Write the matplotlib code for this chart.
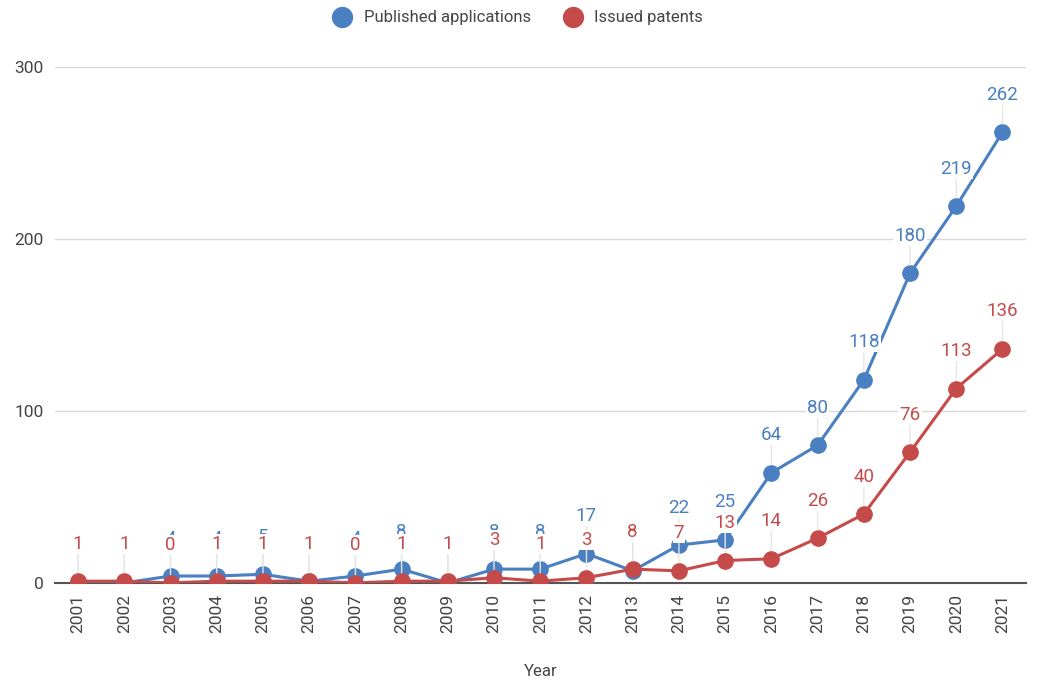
import matplotlib
matplotlib.use('Agg')
import matplotlib.pyplot as plt

plt.rcParams['font.family'] = ['Roboto', 'DejaVu Sans']

years = ['2001', '2002', '2003', '2004', '2005', '2006', '2007', '2008', '2009', '2010', '2011',
         '2012', '2013', '2014', '2015', '2016', '2017', '2018', '2019', '2020', '2021']
published = [0, 0, 4, 4, 5, 1, 4, 8, 0, 8, 8, 17, 7, 22, 25, 64, 80, 118, 180, 219, 262]
issued = [1, 1, 0, 1, 1, 1, 0, 1, 1, 3, 1, 3, 8, 7, 13, 14, 26, 40, 76, 113, 136]

blue = '#4a7fc1'
red = '#c54b4b'

fig = plt.figure(figsize=(10.37, 6.89), dpi=100)
ax = fig.add_axes([0.053, 0.154, 0.936, 0.749])

x = list(range(len(years)))


def draw_series(vals, color, name, z):
    ax.plot(x, vals, color=color, lw=2.2, marker='o', ms=11, label=name, zorder=z)
    for xi, v in zip(x, vals):
        ax.annotate(str(v), (xi, v), xytext=(0, 27), textcoords='offset points',
                    ha='center', va='center', fontsize=13.5, color=color, zorder=z + 2,
                    bbox=dict(boxstyle='square,pad=0.05', fc='white', ec='none'),
                    arrowprops=dict(arrowstyle='-', color='#e6e6e6', lw=1,
                                    shrinkA=0, shrinkB=6),
                    annotation_clip=False)


draw_series(published, blue, 'Published applications', 3)
draw_series(issued, red, 'Issued patents', 6)

ax.set_xlim(-0.5, len(years) - 0.5)
ax.set_ylim(0, 300)
ax.set_yticks([0, 100, 200, 300])
ax.set_xticks(x)
ax.set_xticklabels(years, rotation=90)
ax.tick_params(axis='both', length=0, labelsize=12.5, colors='#444444')
ax.tick_params(axis='x', pad=8)
ax.tick_params(axis='y', pad=8)
ax.grid(axis='y', color='#d9d9d9', lw=1)
ax.set_axisbelow(True)
for s in ['top', 'right', 'left']:
    ax.spines[s].set_visible(False)
ax.spines['bottom'].set_color('#555555')
ax.spines['bottom'].set_linewidth(1.5)
ax.set_xlabel('Year', fontsize=12, color='#444444', labelpad=22)

leg = fig.legend(*ax.get_legend_handles_labels(), loc='center', bbox_to_anchor=(0.5, 0.974),
                 ncol=2, frameon=False, fontsize=12, handlelength=1, handletextpad=0.8,
                 columnspacing=2, markerscale=1.3, labelcolor='#444444')
for h in leg.legend_handles:
    h.set_linestyle('none')

fig.savefig('out.png', dpi=100)
